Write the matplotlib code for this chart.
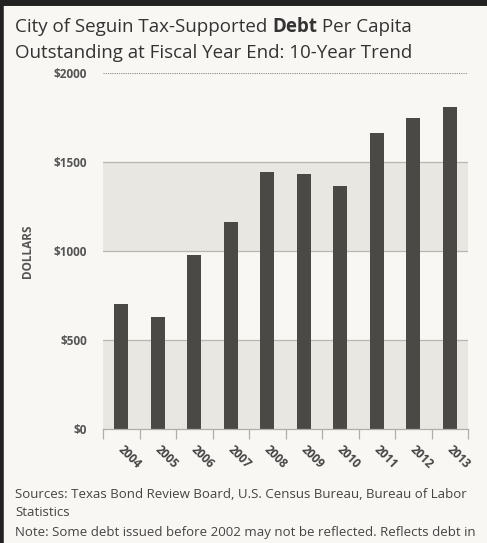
import numpy as np
import matplotlib.pyplot as plt
from matplotlib.lines import Line2D

# Dados
anos = ['2004', '2005', '2006', '2007', '2008', '2009', '2010', '2011', '2012', '2013']
divida_per_capita = [702, 631, 977, 1160, 1442, 1435, 1365, 1665, 1745, 1810]
faixas_y = [0, 500, 1000, 1500, 2000]
rotulos_y = ['$0', '$500', '$1000', '$1500', '$2000']

plt.rcParams['font.family'] = ['Open Sans', 'DejaVu Sans']

fundo = '#f8f7f3'
cor_barra = '#4b4946'

fig = plt.figure(figsize=(4.87, 5.43), dpi=100, facecolor=fundo)
ax = fig.add_axes([0.2115, 0.21, 0.7495, 0.6556], facecolor=fundo)

x = np.arange(len(anos))

# faixas cinzas alternadas
ax.axhspan(0, 500, color='#e9e7e2', zorder=0, lw=0)
ax.axhspan(1000, 1500, color='#e9e7e2', zorder=0, lw=0)
for v in [500, 1000, 1500]:
    ax.axhline(v, color='#b9b7b2', lw=0.9, zorder=1)
ax.axhline(2000, color='#8a8884', lw=0.8, ls=(0, (1, 1)), zorder=1)

ax.bar(x, divida_per_capita, width=0.38, color=cor_barra, zorder=2)

ax.set_xlim(-0.5, 9.5)
ax.set_ylim(0, 2000)
for s in ['top', 'right', 'left']:
    ax.spines[s].set_visible(False)
ax.spines['bottom'].set_color('#b0aea9')
ax.spines['bottom'].set_linewidth(0.9)

ax.set_yticks(faixas_y)
ax.set_yticklabels(rotulos_y, fontsize=8.5, color='#555', fontweight='bold')
ax.tick_params(axis='y', length=0, pad=11.5)

ax.set_xticks(np.arange(-0.5, 10, 1.0))
ax.set_xticklabels([])
ax.tick_params(axis='x', which='major', length=7, color='#b0aea9', width=0.9)
for i, ano in enumerate(anos):
    ax.text(i + 0.1, -80, ano, rotation=-45, ha='left', va='top',
            rotation_mode='anchor', fontsize=8.5, color='#444', fontweight='bold')

ax.set_ylabel('DOLLARS', fontsize=8.5, color='#555', fontweight='bold')
ax.yaxis.set_label_coords(-0.19, 0.5)

# título
tam = 13.5
y1, y2 = 0.950, 0.902
t = fig.text(0.031, y1, 'City of Seguin Tax-Supported ', fontsize=tam, color='#333', va='center')
fig.canvas.draw()
bb = t.get_window_extent().transformed(fig.transFigure.inverted())
d = fig.text(bb.x1, y1, 'Debt', fontsize=tam, color='#333', fontweight='bold', va='center')
fig.canvas.draw()
bb2 = d.get_window_extent().transformed(fig.transFigure.inverted())
fig.text(bb2.x1, y1, ' Per Capita', fontsize=tam, color='#333', va='center')
fig.text(0.031, y2, 'Outstanding at Fiscal Year End: 10-Year Trend', fontsize=tam, color='#333', va='center')

# notas de rodapé
fig.text(0.031, 0.089, 'Sources: Texas Bond Review Board, U.S. Census Bureau, Bureau of Labor',
         fontsize=9.5, color='#444', va='center')
fig.text(0.031, 0.056, 'Statistics', fontsize=9.5, color='#444', va='center')
fig.text(0.031, 0.019, 'Note: Some debt issued before 2002 may not be reflected. Reflects debt in',
         fontsize=9.5, color='#444', va='center')

# moldura superior e esquerda
fig.add_artist(Line2D([0, 1], [0.996, 0.996], color='#222', lw=5, transform=fig.transFigure))
fig.add_artist(Line2D([0.003, 0.003], [0, 1], color='#222', lw=4, transform=fig.transFigure))

plt.savefig('out.png', dpi=100, facecolor=fundo)
